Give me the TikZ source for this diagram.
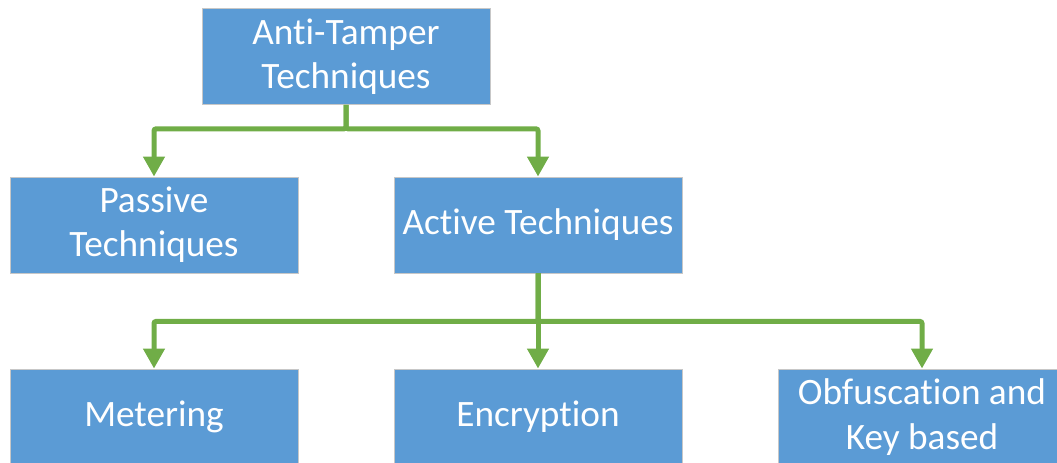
\documentclass[tikz,border=0pt]{standalone}
\usepackage{fontspec}
\setmainfont[Ligatures=CommonOff]{Carlito}
\usetikzlibrary{arrows.meta,positioning}
\definecolor{boxblue}{HTML}{5B9BD5}
\definecolor{linkgreen}{HTML}{70AD47}
\begin{document}
\begin{tikzpicture}[>={Triangle[length=0.5cm,width=0.52cm]},
    font=\fontsize{26.5}{31.5}\selectfont]
    \tikzset{
      block/.style = {draw = black!22, line width = 0.6pt, fill = boxblue,
        text = white, minimum width = 7.2cm, minimum height = 2.4cm,
        align = center, inner sep = 0pt},
      link/.style = {->, draw = linkgreen, line width = 0.125cm,
        rounded corners = 1.5pt},
    }
    \clip (0, 0) rectangle (26.425, -11.55);
    \node [block] (antitamper) at (8.65, -1.41) {Anti-Tamper\\Techniques};
    \node [block] (passive) at (3.85, -5.625) {Passive\\Techniques};
    \node [block] (active) at (13.45, -5.625) {Active Techniques};
    \node [block] (metering) at (3.85, -10.425) {Metering};
    \node [block] (encryption) at (13.45, -10.425) {Encryption};
    \node [block] (obfuscation) at (23.05, -10.425) {Obfuscation and\\Key based};

    \draw [link] (antitamper.south) -- ++(0, -0.6) -| (passive.north);
    \draw [link] (antitamper.south) -- ++(0, -0.6) -| (active.north);

    \draw [link] (active.south) -- ++(0, -1.2) -| (metering.north);
    \draw [link] (active.south) -- (encryption.north);
    \draw [link] (active.south) -- ++(0, -1.2) -| (obfuscation.north);
  \end{tikzpicture}
\end{document}
